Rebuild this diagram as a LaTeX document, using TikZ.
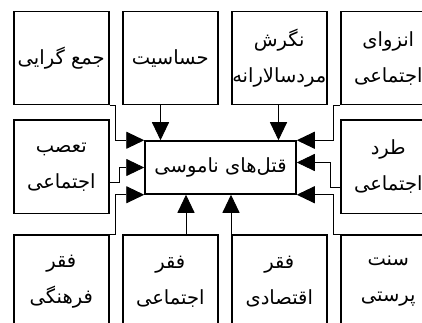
\documentclass[tikz,border=0pt]{standalone}
\usepackage{fontspec}
\newfontfamily\arabicfont[Script=Arabic]{DejaVu Sans}
\TeXXeTstate=1
\usetikzlibrary{positioning,arrows.meta}
\newcommand{\fa}[1]{\beginR #1\endR}

\begin{document}
\begin{tikzpicture}[x=1pt, y=-1pt,
                    cause/.style={draw, line width=1.5pt, minimum width=95pt, minimum height=93pt, inner sep=0pt, align=center, font=\arabicfont\fontsize{19.5}{36}\selectfont},
                    effect/.style={draw, line width=1.5pt, minimum width=151pt, minimum height=53pt, inner sep=0pt, font=\arabicfont\fontsize{19.5}{36}\selectfont},
                    link/.style={line width=0.9pt, -{Triangle[length=18pt, width=17pt]}},
                ]
                \clip (0,0) rectangle (422,323);
                %Nodes
                \node[effect] (qn) at (220.5,167.5) {\fa{قتل‌های ناموسی}};
                \node[cause, anchor=north west] (jg) at (13,11) {\fa{جمع گرایی}};
                \node[cause] (hs) [right=12.5pt of jg] {\fa{حساسیت}};
                \node[cause] (nm) [right=12.5pt of hs] {\fa{نگرش}\\\fa{مردسالارانه}};
                \node[cause] (ez) [right=12.5pt of nm] {\fa{انزوای}\\\fa{اجتماعی}};
                \node[cause] (ta) [below=14pt of jg] {\fa{تعصب}\\\fa{اجتماعی}};
                \node[cause] (td) [below=14pt of ez] {\fa{طرد}\\\fa{اجتماعی}};
                \node[cause] (ff) [below=20pt of ta] {\fa{فقر}\\\fa{فرهنگی}};
                \node[cause] (fe) [right=12.5pt of ff] {\fa{فقر}\\\fa{اجتماعی}};
                \node[cause] (fq) [right=12.5pt of fe] {\fa{فقر}\\\fa{اقتصادی}};
                \node[cause] (sp) [right=12.5pt of fq] {\fa{سنت}\\\fa{پرستی}};
                %Links
                \coordinate (hsin) at ([xshift=-60pt]qn.north);
                \coordinate (nmin) at ([xshift=58pt]qn.north);
                \coordinate (fein) at ([xshift=-34.5pt]qn.south);
                \coordinate (fqin) at ([xshift=10.5pt]qn.south);
                \draw[link] (jg.south east) -- ++(6,0) |- (qn.north west);
                \draw[link] (hs.south -| hsin) -- (hsin);
                \draw[link] (nm.south -| nmin) -- (nmin);
                \draw[link] (ez.south west) -- ++(-7,0) |- (qn.north east);
                \draw[link] ([yshift=-15.5pt]ta.east) -- ++(10,0) |- (qn.west);
                \draw[link] ([yshift=-20.5pt]td.west) -- ++(-9.5,0) |- ([yshift=5pt]qn.east);
                \draw[link] (ff.north east) -- ++(5.5,0) |- (qn.south west);
                \draw[link] (fe.north -| fein) -- (fein);
                \draw[link] (fq.north -| fqin) -- (fqin);
                \draw[link] (sp.north west) -- ++(-7,0) |- (qn.south east);
            \end{tikzpicture}
\end{document}
